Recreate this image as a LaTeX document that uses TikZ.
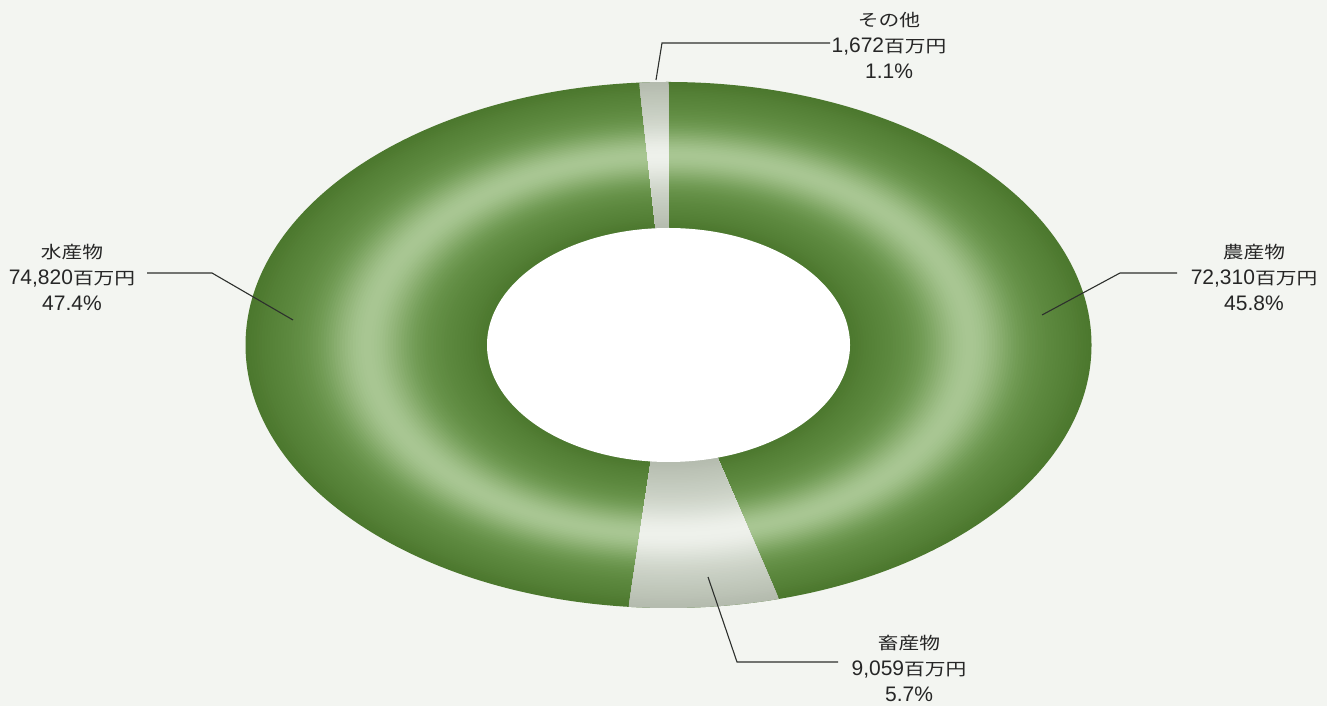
\documentclass[tikz,border=0pt]{standalone}
\usepackage{fontspec}
\setmainfont{Liberation Sans}
\newfontfamily\cjk[FakeStretch=1.22]{Noto Sans CJK JP}
\newcommand\jp[1]{{\cjk\fontsize{17}{26}\selectfont #1}}
\usetikzlibrary{calc}
\definecolor{bgc}{RGB}{243,245,241}
\definecolor{dk}{RGB}{76,120,46}
\definecolor{md}{RGB}{108,152,78}
\definecolor{hl}{RGB}{168,198,146}
\definecolor{dkg}{RGB}{180,187,174}
\definecolor{mdg}{RGB}{212,218,207}
\definecolor{hlg}{RGB}{238,241,235}
\definecolor{ln}{RGB}{45,48,45}
\tikzset{
  lbl/.style={font=\fontsize{21}{26}\selectfont, align=center, text=black!85, inner sep=0pt},
  leader/.style={draw=ln, line width=1.1pt},
}
\newcommand\ringbands[3]{%
  \foreach \k in {0,...,90}{%
    \pgfmathsetmacro\t{1-\k/90}%
    \pgfmathsetmacro\rx{181.5+\t*241.5}%
    \pgfmathsetmacro\ry{117+\t*146}%
    \pgfmathsetmacro\s{abs(sin(180*\t))}%
    \pgfmathsetmacro\a{100*(1-\s)}%
    \pgfmathsetmacro\q{\s*\s*\s*\s}%
    \pgfmathsetmacro\b{100*(1-\q*\q)}%
    \fill[#1!\a!#2!\b!#3] (C) ellipse[x radius=\rx, y radius=\ry];
  }%
}
\begin{document}
\begin{tikzpicture}[x=1pt,y=1pt]
\fill[bgc] (0,0) rectangle (1327,706);
\useasboundingbox (0,0) rectangle (1327,706);
\coordinate (C) at (668.5,361);
% green ring
\ringbands{dk}{md}{hl}
% 畜産物 slice
\begin{scope}
  \clip (C) -- ($(C)+(-74.88:634.5 and 394.5)$) arc[start angle=-74.88, end angle=-95.4, x radius=634.5, y radius=394.5] -- cycle;
  \ringbands{dkg}{mdg}{hlg}
\end{scope}
% その他 slice
\begin{scope}
  \clip (C) -- ($(C)+(93.96:634.5 and 394.5)$) arc[start angle=93.96, end angle=90, x radius=634.5, y radius=394.5] -- cycle;
  \ringbands{dkg}{mdg}{hlg}
\end{scope}
% hole
\fill[white] (C) ellipse[x radius=181.5, y radius=117];
% labels
\node[lbl] (n1) at (1254,429) {\jp{農産物}\\72,310\jp{百万円}\\45.8\%};
\node[lbl] (n2) at (909,38) {\jp{畜産物}\\9,059\jp{百万円}\\5.7\%};
\node[lbl] (n3) at (72,429) {\jp{水産物}\\74,820\jp{百万円}\\47.4\%};
\node[lbl] (n4) at (889,661) {\jp{その他}\\1,672\jp{百万円}\\1.1\%};
% leader points
\coordinate (p1) at (1042,391); \coordinate (b1) at (1120,433); \coordinate (e1) at (1177,433);
\coordinate (p2) at (708,129);  \coordinate (b2) at (737,44);   \coordinate (e2) at (838,44);
\coordinate (p3) at (293,386);  \coordinate (b3) at (212,433);  \coordinate (e3) at (147,433);
\coordinate (p4) at (656,626);  \coordinate (b4) at (662,663);  \coordinate (e4) at (830,663);
\draw[leader] (p1) -- (b1) -- (e1);
\draw[leader] (p2) -- (b2) -- (e2);
\draw[leader] (p3) -- (b3) -- (e3);
\draw[leader] (p4) -- (b4) -- (e4);
\end{tikzpicture}
\end{document}
